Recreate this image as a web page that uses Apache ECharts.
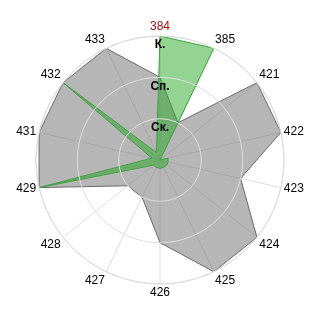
<!DOCTYPE html>
<html><head><meta charset="utf-8">
<script src="https://cdn.jsdelivr.net/npm/echarts@6/dist/echarts.min.js"></script>
<style>html,body{margin:0;padding:0;background:#fff}#c{width:320px;height:320px}</style>
</head><body><div id="c"></div>
<script>
const categories = ['384','385','421','422','423','424','425','426','427','428','429','431','432','433'];
const graySeries = [2,1,3,3,2,3,3,2,1,1,3,3,3,3];
const greenSeries = [3,3,0,0.2,0.2,0.2,0.2,0.2,0.2,0.2,3,0.2,3,0.2];
const radiusLabels = ['', 'Ск.', 'Сп.', 'К.'];

function toPolar(vals){
  const d = vals.map((v,i)=>[v,i]);
  d.push([vals[0], vals.length]);
  return d;
}
const chart = echarts.init(document.getElementById('c'), null, {renderer:'canvas'});
chart.setOption({
  animation:false,
  polar:{center:['50%','50%'], radius:124},
  angleAxis:{
    type:'value', min:0, max:categories.length, interval:1, startAngle:90, clockwise:true,
    axisLine:{show:true, lineStyle:{color:'#d8d8d8', width:1}},
    axisTick:{show:false},
    splitLine:{show:true, lineStyle:{color:'#dddddd', width:1}},
    axisLabel:{
      margin:3, fontFamily:'Liberation Sans', fontSize:12,
      formatter:v=>{const c=categories[v]; if(c===undefined||v===categories.length) return ''; return v===0?'{r|'+c+'}':c;},
      color:'#000',
      rich:{r:{color:'#a01010', fontFamily:'Liberation Sans', fontSize:12}}
    }
  },
  radiusAxis:{
    type:'value', min:0, max:3, interval:1,
    axisLine:{show:false}, axisTick:{show:false},
    splitLine:{show:true, lineStyle:{color:'#dddddd', width:1}},
    axisLabel:{
      margin:0, align:'center', verticalAlign:'top', padding:[3,0,0,0],
      fontFamily:'Liberation Sans', fontSize:12, fontWeight:'bold', color:'#000',
      formatter:v=>radiusLabels[v]||''
    },
    z:5
  },
  series:[
    {type:'line', coordinateSystem:'polar', data:toPolar(graySeries), showSymbol:false, symbol:'none',
     lineStyle:{color:'#6a6a6a', width:1}, areaStyle:{color:'rgba(120,120,120,0.54)', opacity:1}, z:2},
    {type:'line', coordinateSystem:'polar', data:toPolar(greenSeries), showSymbol:false, symbol:'none',
     lineStyle:{color:'#3f9f3f', width:1}, areaStyle:{color:'rgba(40,170,40,0.5)', opacity:1}, z:3}
  ]
});
</script></body></html>
